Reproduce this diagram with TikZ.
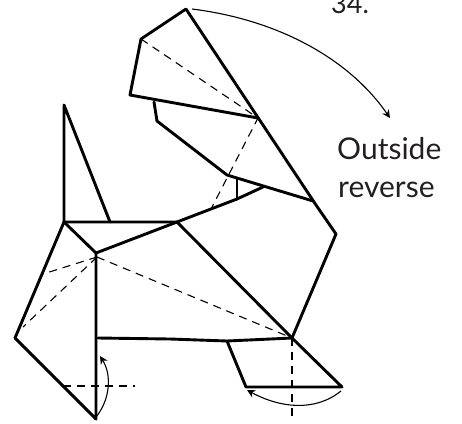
\documentclass[tikz,border=0pt]{standalone}
\usepackage{fontspec}
\setmainfont{Lato}
\usetikzlibrary{arrows.meta}
\definecolor{ink}{RGB}{35,31,32}
\tikzset{
  x=1pt,y=-1pt,
  fold/.style={line width=2.9pt,line join=round,line cap=round,black},
  crease/.style={line width=1.1pt,dash pattern=on 8pt off 6pt,black},
  motion/.style={line width=1.1pt,black,-{Stealth[length=8pt,width=8pt]}},
  label/.style={font=\fontsize{30}{32}\selectfont,text=ink,anchor=base west,inner sep=0pt}
}
\begin{document}
\begin{tikzpicture}
\useasboundingbox (0,0) rectangle (462,423);
\clip (0,0) rectangle (462,423);
% creases
\draw[crease] (141,39) -- (258,118) -- (211,209);
\draw[crease] (97,257) -- (292,338);
\draw[crease] (97,257) -- (43,274);
\draw[crease] (97,257) -- (23,327);
\draw[crease] (63,386) -- (135,386);
\draw[crease] (292,338) -- (292,420);
% head
\draw[fold] (258,118) -- (130,95) -- (141,39) -- (186,9) -- (316,205) -- (336,234) -- (292,338);
\draw[fold] (154,102) -- (157,121) -- (227,175) -- (313,201);
\draw[fold] (237,179) -- (237,199);
\draw[fold] (263,187) -- (237,199) -- (177,222) -- (96,253);
% ear and body
\draw[fold] (64,222) -- (64,105) -- (110,222);
\draw[fold] (64,222) -- (177,222) -- (292,338);
\draw[fold] (96,253) -- (64,222) -- (15,338) -- (96,419) -- cycle;
\draw[fold] (98,338) -- (170,339) -- (227,341) -- (292,338);
\draw[fold] (292,338) -- (342,387) -- (246,387) -- (227,341);
% arrows
\draw[motion] (192,9) .. controls (280,20) and (350,60) .. (390,118);
\draw[motion] (96,417) .. controls (110,400) and (112,375) .. (100,356);
\draw[motion] (341,391) .. controls (315,412) and (280,408) .. (247,390);
% text
\node[label,font=\fontsize{27}{30}\selectfont] (step) at (331,13) {34.};
\node[label] (outside) at (337,159) {Outside};
\node[label] (rev) at (338,197) {reverse};
\end{tikzpicture}
\end{document}
